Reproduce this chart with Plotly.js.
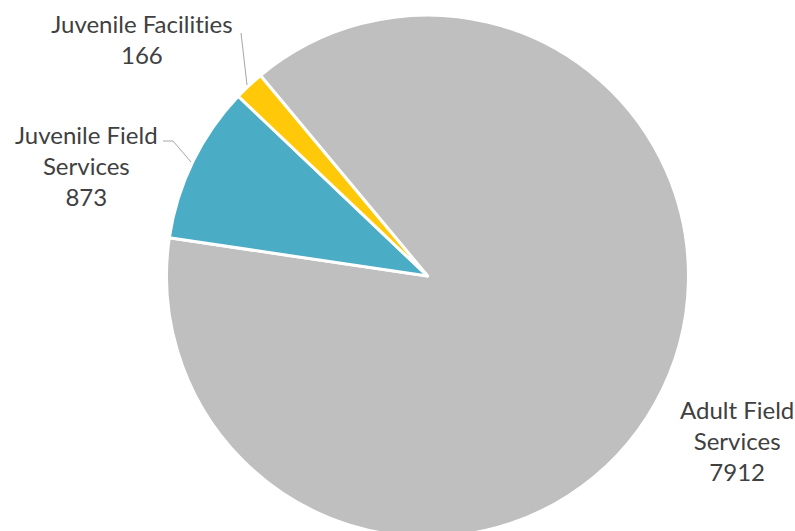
<!DOCTYPE html>
<html>
<head>
<meta charset="utf-8">
<script src="https://cdn.plot.ly/plotly-3.0.1.min.js"></script>
<style>
html,body{margin:0;padding:0;overflow:hidden;background:#fff;}
#chart{width:795px;height:552px;}
#chart text, #chart tspan{font-variant-ligatures:none;font-feature-settings:"liga" 0, "clig" 0;}
</style>
</head>
<body>
<div id="chart"></div>
<script>
// Data
const categories = ['Adult Field Services', 'Juvenile Field Services', 'Juvenile Facilities'];
const labelText = ['Adult Field<br>Services', 'Juvenile Field<br>Services', 'Juvenile Facilities'];
const values = [7912, 873, 166];
const colors = ['#BFBFBF', '#4BACC6', '#FFC90A'];

// Layout geometry (pixels)
const W = 795, H = 552;
const M = {l: 166, r: 106, t: 15, b: 15};
const PW = W - M.l - M.r, PH = H - M.t - M.b;
const fx = x => (x - M.l) / PW;
const fy = y => 1 - (y - M.t) / PH;

// label anchor positions (pixel centers) for each category
const labelPos = [[737, 440], [86, 165], [142, 39]];
const font = {family: 'Lato, "Liberation Sans", sans-serif', size: 24, color: '#404040'};

const annotations = categories.map((c, i) => ({
  xref: 'paper', yref: 'paper',
  x: fx(labelPos[i][0]), y: fy(labelPos[i][1]),
  xanchor: 'center', yanchor: 'middle',
  showarrow: false, align: 'center',
  text: labelText[i] + '<br>' + values[i],
  font: font
}));

const leaderStyle = {color: '#A6A6A6', width: 1};
const leaders = [
  [[163, 141], [173, 141], [191, 162]],
  [[241, 33], [247, 85]]
];
const shapes = leaders.map(pts => ({
  type: 'path', xref: 'paper', yref: 'paper',
  path: pts.map((p, i) => (i ? 'L' : 'M') + fx(p[0]) + ',' + fy(p[1])).join(' '),
  line: leaderStyle
}));

Plotly.newPlot('chart', [{
  type: 'pie',
  labels: categories,
  values: values,
  sort: false,
  direction: 'clockwise',
  rotation: -39.8,
  textinfo: 'none',
  hoverinfo: 'label+value',
  marker: {colors: colors, line: {color: '#FFFFFF', width: 3}},
  domain: {x: [0, 1], y: [0, 1]}
}], {
  width: W, height: H,
  margin: {l: M.l, r: M.r, t: M.t, b: M.b, pad: 0},
  showlegend: false,
  paper_bgcolor: '#FFFFFF',
  annotations: annotations,
  shapes: shapes
}, {displayModeBar: false, staticPlot: true});
</script>
</body>
</html>
